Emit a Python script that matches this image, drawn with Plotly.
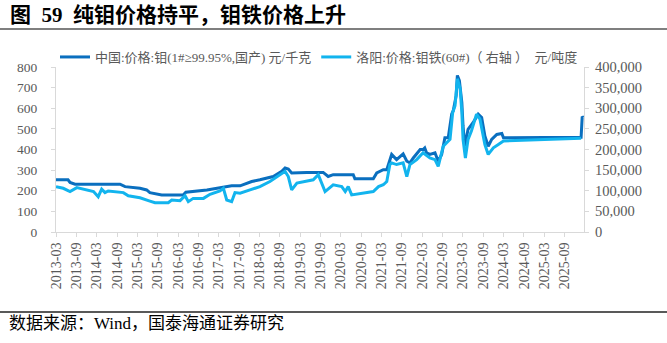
import plotly.graph_objects as go

# ---------------- data ----------------
mo_dates = ["2013-03-01","2013-06-17","2013-07-05","2013-08-19","2014-09-27","2014-11-11","2015-03-25",
            "2015-05-24","2015-06-22","2015-10-06","2016-04-18","2016-05-10","2016-11-15","2017-02-12",
            "2017-06-25","2017-09-09","2017-12-22","2018-03-06","2018-07-04","2018-09-18","2018-10-18",
            "2018-11-16","2018-12-16","2019-05-01","2019-09-25","2019-11-09","2019-12-24","2020-06-21",
            "2020-07-06","2020-12-18","2021-01-18","2021-03-18","2021-04-18","2021-06-01","2021-07-15",
            "2021-09-12","2021-10-15","2021-11-12","2021-12-12","2022-02-12","2022-03-10","2022-03-25",
            "2022-04-10","2022-05-10","2022-06-10","2022-06-25","2022-07-24","2022-08-24","2022-09-22",
            "2022-10-22","2022-11-22","2022-12-06","2023-01-01","2023-01-12","2023-01-30","2023-02-21",
            "2023-03-04","2023-03-19","2023-04-18","2023-06-03","2023-07-18","2023-08-18","2023-09-16",
            "2023-10-16","2023-11-16","2024-01-01","2024-02-15","2024-03-01","2026-01-27","2026-02-06",
            "2026-02-15"]
mo_price = [253,253,240,232,232,220,212,204,191,180,180,193,204,212,224,224,245,253,269,294,310,305,286,
            289,289,269,278,278,258,258,286,302,302,376,351,379,343,335,359,400,400,408,384,376,384,384,
            343,376,457,457,571,588,661,759,734,629,514,416,498,531,571,555,465,416,449,473,478,457,459,
            560,555]

femo_dates = ["2013-03-01","2013-05-05","2013-07-05","2013-09-04","2014-02-01","2014-03-15","2014-04-15",
              "2014-05-15","2014-06-13","2014-10-27","2014-12-10","2015-03-25","2015-06-22","2015-08-07",
              "2015-12-04","2016-01-04","2016-03-19","2016-05-03","2016-06-01","2016-07-15","2016-10-15",
              "2016-12-13","2017-03-12","2017-04-12","2017-05-12","2017-06-25","2017-07-25","2017-09-09",
              "2017-12-07","2018-03-06","2018-06-04","2018-09-03","2018-10-18","2018-11-16","2018-12-16",
              "2019-02-01","2019-05-01","2019-06-28","2019-08-12","2019-09-25","2019-10-12","2019-12-24",
              "2020-03-10","2020-04-10","2020-05-07","2020-06-07","2020-09-19","2020-12-18","2021-02-03",
              "2021-03-18","2021-04-18","2021-05-16","2021-06-01","2021-07-15","2021-09-12","2021-10-15",
              "2021-11-12","2022-01-12","2022-03-10","2022-04-25","2022-05-10","2022-06-25","2022-07-24",
              "2022-09-07","2022-11-07","2022-12-01","2022-12-22","2023-01-12","2023-02-06","2023-02-21",
              "2023-03-04","2023-03-25","2023-04-18","2023-05-18","2023-07-03","2023-08-03","2023-09-16",
              "2023-10-16","2023-12-01","2024-01-15","2024-03-01","2026-01-27"]
femo_price = [110000,106000,98000,107500,98000,85500,104000,95500,99500,95500,88000,83000,75000,71000,
              71000,77500,76000,88000,73500,81500,81500,91500,99500,106000,77500,73500,95500,94000,
              102000,110000,122500,139000,147000,134500,102000,118500,122500,126500,139000,106000,98000,
              114500,110000,98000,110000,90000,94000,98000,110000,114500,122500,163500,167500,163500,
              167500,134500,163500,175500,192000,183500,179500,175500,159000,208000,224500,290000,306000,
              371500,347000,290000,224500,179500,224500,245000,285500,273500,212000,188000,204000,212000,
              220500,227500]

tick_labels = ["2013-03","2013-09","2014-03","2014-09","2015-03","2015-09","2016-03","2016-09",
               "2017-03","2017-09","2018-03","2018-09","2019-03","2019-09","2020-03","2020-09",
               "2021-03","2021-09","2022-03","2022-09","2023-03","2023-09","2024-03","2024-09",
               "2025-03","2025-09"]

name_mo = "中国:价格:钼(1#≥99.95%,国产) 元/千克"
name_femo = "洛阳:价格:钼铁(60#)（ 右轴 ）  元/吨度"
title_text = "图\u00a0 59\u00a0 纯钼价格持平，钼铁价格上升"
source_text = "数据来源：Wind，国泰海通证券研究"

# ---------------- figure ----------------
W, H = 667, 343
ML, MR, MT, MB = 56, 83, 67, 111
PW, PH = W - ML - MR, H - MT - MB

def px_x(p):
    return (p - ML) / PW

def px_y(p):
    return (H - MB - p) / PH

DARK = "#0A6FBF"
LIGHT = "#12B4EE"
GRAY_TXT = "#595959"
AX = "#D9D9D9"
SERIF = "Liberation Serif, Noto Sans CJK SC, serif"
TICKFONT = dict(family=SERIF, size=13.5, color=GRAY_TXT)

fig = go.Figure()
fig.add_trace(go.Scatter(x=mo_dates, y=mo_price, mode="lines", name=name_mo,
                         line=dict(color=DARK, width=3), yaxis="y"))
fig.add_trace(go.Scatter(x=femo_dates, y=femo_price, mode="lines", name=name_femo,
                         line=dict(color=LIGHT, width=3), yaxis="y2"))

fig.update_layout(
    width=W, height=H,
    margin=dict(l=ML, r=MR, t=MT, b=MB, pad=0),
    paper_bgcolor="white", plot_bgcolor="white",
    font=dict(family=SERIF, color=GRAY_TXT),
    showlegend=True,
    legend=dict(orientation="h", x=px_x(55), y=px_y(57), xanchor="left", yanchor="middle",
                font=dict(family=SERIF, size=13, color=GRAY_TXT),
                bgcolor="rgba(0,0,0,0)", itemwidth=30, tracegroupgap=0),
    xaxis=dict(type="date", range=["2013-03-01", "2026-02-22"],
               tickmode="array", tickvals=[t + "-01" for t in tick_labels], ticktext=tick_labels,
               tickangle=-90, tickfont=dict(TICKFONT, size=14),
               showgrid=False, zeroline=False, showline=True, linecolor=AX, linewidth=1,
               ticks="outside", ticklen=4, tickcolor=AX),
    yaxis=dict(range=[0, 800], dtick=100, tick0=0, tickfont=TICKFONT,
               showgrid=False, zeroline=False, showline=True, linecolor=AX, linewidth=1,
               ticks="outside", ticklen=4, tickcolor=AX, ticklabelstandoff=11),
    yaxis2=dict(range=[0, 400000], dtick=50000, tick0=0, tickformat=",", tickfont=dict(TICKFONT, size=14.5),
                overlaying="y", side="right", anchor="x",
                showgrid=False, zeroline=False, showline=True, linecolor=AX, linewidth=1,
                ticks="outside", ticklen=4, tickcolor=AX, ticklabelstandoff=3),
)

fig.add_annotation(text=title_text, xref="paper", yref="paper", x=px_x(8), y=px_y(15),
                   xanchor="left", yanchor="middle", showarrow=False,
                   font=dict(family=SERIF, size=21, color="black", weight="bold"))
fig.add_annotation(text=source_text, xref="paper", yref="paper", x=px_x(7), y=px_y(323),
                   xanchor="left", yanchor="middle", showarrow=False,
                   font=dict(family=SERIF, size=17, color="black"))

fig.add_shape(type="line", xref="paper", yref="paper", x0=px_x(0), x1=px_x(W), y0=px_y(29), y1=px_y(29),
              line=dict(color="#7F7F7F", width=2))
fig.add_shape(type="line", xref="paper", yref="paper", x0=px_x(0), x1=px_x(W), y0=px_y(312), y1=px_y(312),
              line=dict(color="#222222", width=1.5))

fig.write_html("out.html")
